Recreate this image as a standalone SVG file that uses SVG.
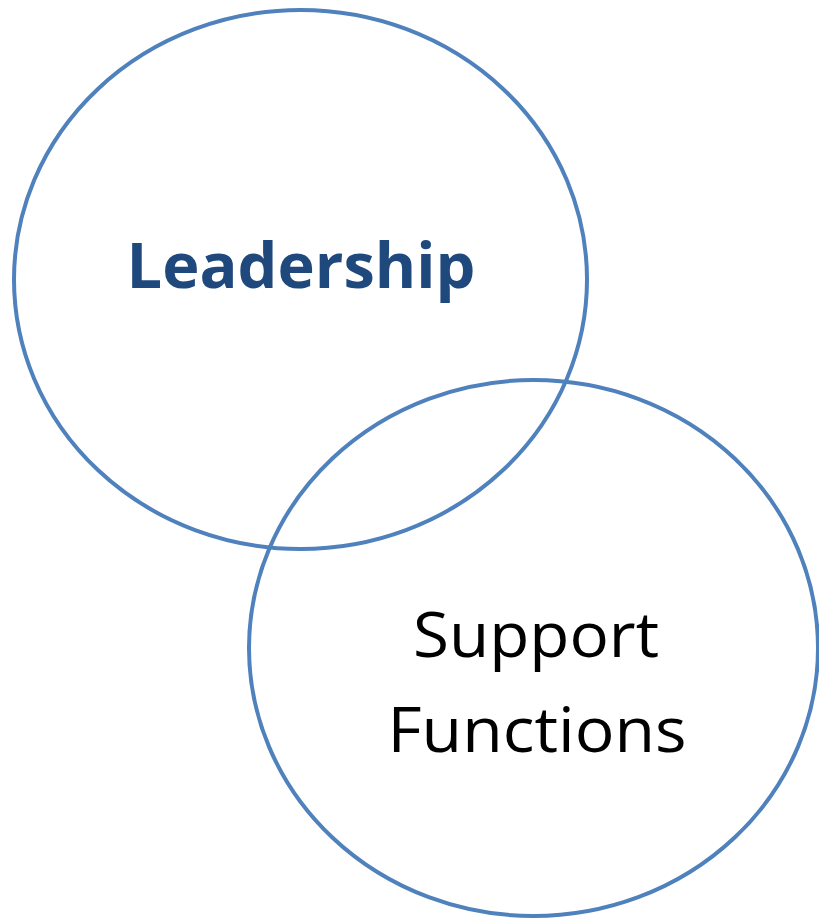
<svg xmlns="http://www.w3.org/2000/svg" width="819" height="919" viewBox="0 0 819 919">
<style>
.c{fill:none;stroke:#4F81BD;stroke-width:4}
.t{font-family:"Open Sans","Liberation Sans",sans-serif;text-anchor:middle}
</style>
<rect width="819" height="919" fill="#fff"/>
<g id="leadership">
<ellipse class="c" cx="300.5" cy="279.5" rx="286.5" ry="269.5"/>
<text class="t" x="301" y="288" font-size="62" font-weight="bold" fill="#1F497D" textLength="349" lengthAdjust="spacingAndGlyphs">Leadership</text>
</g>
<g id="support">
<ellipse class="c" cx="533.5" cy="648" rx="284.5" ry="268"/>
<text class="t" x="536" y="657" font-size="62" fill="#000" textLength="246" lengthAdjust="spacingAndGlyphs">Support</text>
<text class="t" x="537" y="752" font-size="62" fill="#000" textLength="299" lengthAdjust="spacingAndGlyphs">Functions</text>
</g>
<g id="connectors"/>
</svg>
